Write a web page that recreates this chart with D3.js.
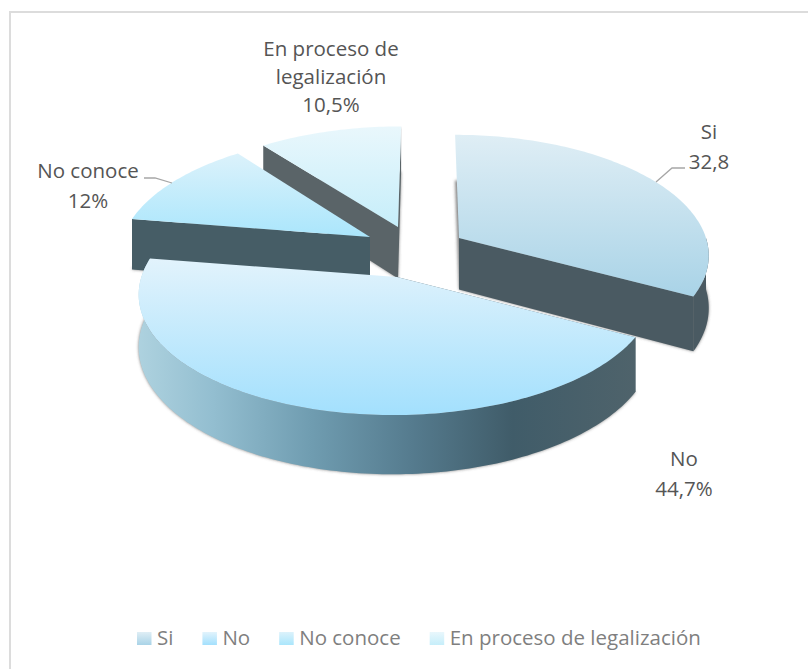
<!DOCTYPE html>
<html><head><meta charset="utf-8">
<script src="https://cdn.jsdelivr.net/npm/d3@7/dist/d3.min.js"></script>
<style>html,body{margin:0;padding:0;background:#fff}svg{display:block}text{font-family:"Open Sans",sans-serif}</style>
</head><body><svg id="c" width="808" height="669"></svg>
<script>
const categories = ["Si","No","No conoce","En proceso de legalización"];
const values = [32.8,44.7,12,10.5];
const valueLabels = ["32,8","44,7%","12%","10,5%"];

const svg = d3.select("#c");
const defs = svg.append("defs");
defs.append("filter").attr("id","blur").attr("x","-10%").attr("y","-10%").attr("width","120%").attr("height","120%")
  .append("feGaussianBlur").attr("stdDeviation",1.6);

// layout of the exploded slices: apex of each slice on the page, per-slice size
const apex = [[459,238],[397,277],[370,237],[398,227]];
const scaleX = [1,1.035,1,1];
const scaleY = [1,1.03,1,0.975];
const topTop = ["#dfeef5","#e2f3fc","#dcf2fb","#e9f7fc"];
const topBot = ["#a9d3e7","#a3e0fd","#aae6fc","#c6eefa"];
const wallCol = ["#4a5a62","#4a5f69","#465d66","#5a6468"];

const K = 0.13, RX = 247, RY = 116.6, D0 = 51.5, VX = 425;
const sx = d3.scaleLinear().domain([-1,1]).range([-RX,RX]);
const sy = d3.scaleLinear().domain([-1,1]).range([-RY,RY]);
function proj(i,a){
  const u=Math.sin(a), v=-Math.cos(a);
  const d=1-K*v;
  return {x:sx(u)*scaleX[i]/d+(apex[i][0]-VX)*(1/d-1), y:sy(v)*scaleY[i]/d, depth:D0/d};
}
const pie = d3.pie().sort(null).value(d=>d).startAngle(0).endAngle(2*Math.PI);
const arcs = pie(values);
const line = d3.line().x(d=>d[0]).y(d=>d[1]);

function rim(i,a0,a1,dz){
  const n=Math.max(2,Math.ceil((a1-a0)/0.02)), pts=[];
  for(let k=0;k<=n;k++){const a=a0+(a1-a0)*k/n,p=proj(i,a);pts.push([apex[i][0]+p.x,apex[i][1]+p.y+(dz?p.depth:0)]);}
  return pts;
}
function outline(i,dz){
  const A=arcs[i];
  return line([[apex[i][0],apex[i][1]+(dz?D0:0)],...rim(i,A.startAngle,A.endAngle,dz)])+"Z";
}
function radialWall(i,a){
  const p=proj(i,a),x=apex[i][0],y=apex[i][1];
  return line([[x,y],[x+p.x,y+p.y],[x+p.x,y+p.y+p.depth],[x,y+D0]])+"Z";
}
function rimWall(i,a0,a1){
  return line([...rim(i,a0,a1,false),...rim(i,a0,a1,true).reverse()])+"Z";
}

// chart frame: only the top and left edges fall inside the picture
const frame=[[[808,12],[10,12],[10,669]]];
svg.append("g").selectAll("path").data(frame).join("path")
  .attr("d",d=>line(d)).attr("fill","none").attr("stroke","#dcdcdc").attr("stroke-width",2);

// gradients of the top faces
categories.forEach((c,i)=>{
  const g=defs.append("linearGradient").attr("id","top"+i).attr("x1",0).attr("y1",0).attr("x2",0).attr("y2",1);
  g.append("stop").attr("offset",0).attr("stop-color",topTop[i]);
  g.append("stop").attr("offset",1).attr("stop-color",topBot[i]);
});
// horizontal shading of the big slice's rim
const rg=defs.append("linearGradient").attr("id","rimNo").attr("gradientUnits","userSpaceOnUse")
  .attr("x1",138).attr("x2",637).attr("y1",0).attr("y2",0);
[[0,"#aed2df"],[0.15,"#93bed0"],[0.35,"#6f9cb0"],[0.55,"#557b8e"],[0.75,"#405c69"],[1,"#4f636b"]]
  .forEach(s=>rg.append("stop").attr("offset",s[0]).attr("stop-color",s[1]));

const order=[3,2,0,1];
// soft shadows below each slice
svg.append("g").selectAll("path").data(order).join("path")
  .attr("d",i=>outline(i,true)).attr("fill","#555").attr("fill-opacity",0.75).attr("filter","url(#blur)");

order.forEach(i=>{
  const g=svg.append("g");
  const A=arcs[i];
  if(i===3){
    g.append("path").attr("d",radialWall(i,A.startAngle)).attr("fill",wallCol[i]);
    g.append("path").attr("d",radialWall(i,A.endAngle)).attr("fill",wallCol[i]);
  }
  if(i===2) g.append("path").attr("d",radialWall(i,A.startAngle)).attr("fill",wallCol[i]);
  if(i===0){
    g.append("path").attr("d",radialWall(i,A.endAngle)).attr("fill",wallCol[i]);
    g.append("path").attr("d",rimWall(i,Math.PI/2,A.endAngle)).attr("fill",wallCol[i]);
  }
  if(i===1){
    g.append("path").attr("d",radialWall(i,A.startAngle)).attr("fill","#4f646d");
    g.append("path").attr("d",rimWall(i,A.startAngle,A.endAngle)).attr("fill","url(#rimNo)");
  }
  g.append("path").attr("d",outline(i,false)).attr("fill",`url(#top${i})`);
});

// leader lines
const leader=[[[656,182],[672,168],[685,168]],[[172,183],[155,178],[144,178]]];
svg.append("g").selectAll("path").data(leader).join("path")
  .attr("d",d=>line(d)).attr("fill","none").attr("stroke","#a6a6a6").attr("stroke-width",1.3);

// data labels
const labelLines=[
  [categories[0],valueLabels[0]],
  [categories[1],valueLabels[1]],
  [categories[2],valueLabels[2]],
  ["En proceso de","legalización",valueLabels[3]]
];
const labelPos=[[709,139],[684,466],[88,178],[331,56]];
const lh=[30,30,29.5,28];
labelLines.forEach((ls,i)=>{
  svg.append("text").attr("text-anchor","middle").attr("font-size",20.5).attr("fill","#555")
    .selectAll("tspan").data(ls).join("tspan")
    .attr("x",labelPos[i][0]).attr("y",(d,k)=>labelPos[i][1]+k*lh[i]).text(d=>d);
});

// legend
let lx=137;
const leg=svg.append("g");
categories.forEach((c,i)=>{
  leg.append("rect").attr("x",lx).attr("y",632).attr("width",14.5).attr("height",13).attr("fill",`url(#top${i})`);
  const t=leg.append("text").attr("x",lx+20).attr("y",645).attr("font-size",20.5).attr("fill","#7f7f7f").text(c);
  lx+=20+t.node().getComputedTextLength()+29;
});
</script></body></html>
